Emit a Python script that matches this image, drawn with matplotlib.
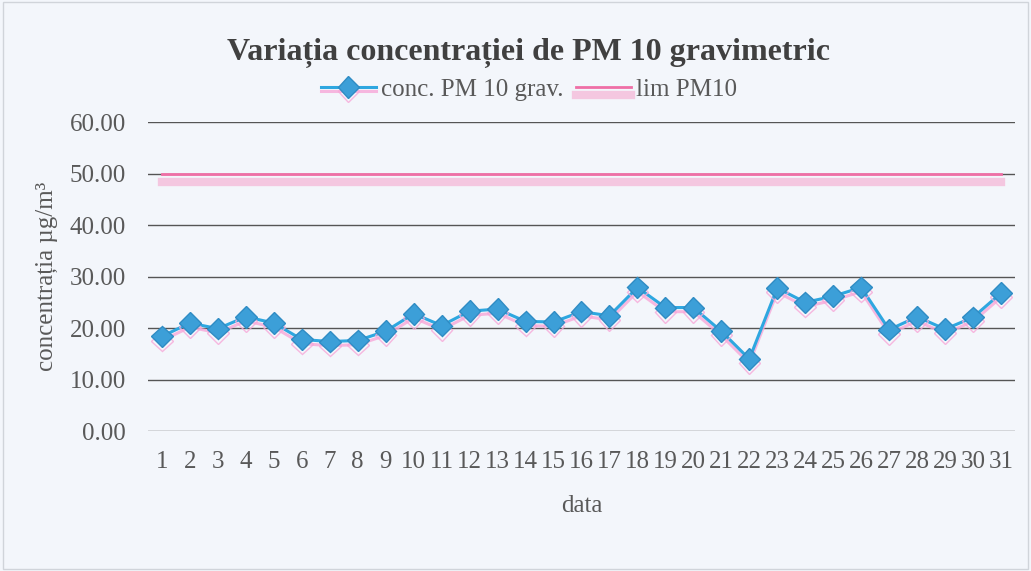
import matplotlib
matplotlib.use('Agg')
from matplotlib import pyplot as plt
import matplotlib.patheffects as pe

days = list(range(1, 32))
conc = [18.4, 21.0, 19.9, 22.2, 21.0, 17.8, 17.4, 17.6, 19.4, 22.8, 20.5, 23.3, 23.7, 21.3, 21.2, 23.2,
        22.4, 27.9, 24.0, 24.0, 19.4, 14.0, 27.8, 25.0, 26.2, 27.9, 19.7, 22.2, 19.8, 22.1, 26.8]
lim = [50] * 31
yticks = [0, 10, 20, 30, 40, 50, 60]

plt.rcParams['font.family'] = ['Liberation Serif', 'DejaVu Serif']
bg = '#f3f6fb'

fig = plt.figure(figsize=(10.31, 5.71), dpi=100, facecolor=bg)
ax = fig.add_axes([0.1435, 0.245, 0.841, 0.541], facecolor=bg)

for y in yticks:
    ax.axhline(y, color='#555555', lw=1.0, zorder=1)

shadow_pink = [pe.SimpleLineShadow(offset=(0, -3), shadow_color='#f7a8d8', alpha=0.8), pe.Normal()]
ax.plot(days, conc, color='#2ea7e0', lw=2.2, marker='D', markersize=11,
        markerfacecolor='#3c9fd8', markeredgecolor='#2f8cc4', zorder=3,
        label='conc. PM 10 grav.', path_effects=shadow_pink)
ax.plot(days, lim, color='#ef6fa6', lw=2.0, zorder=2, label='lim PM10',
        path_effects=[pe.SimpleLineShadow(offset=(0, -6), shadow_color='#f6a9cf', alpha=0.6, linewidth=6),
                      pe.Normal()])

ax.set_xlim(0.5, 31.5)
ax.set_ylim(0, 60)
ax.set_xticks(days)
ax.set_xticklabels([str(d) for d in days])
ax.set_yticks(yticks)
ax.set_yticklabels(['%.2f' % v for v in yticks])
ax.tick_params(axis='both', length=0, labelsize=18, colors='#595959', pad=16)
ax.tick_params(axis='x', pad=14)
for s in ax.spines.values():
    s.set_visible(False)
ax.set_xlabel('data', fontsize=18, color='#595959', labelpad=16)
ax.set_ylabel('concentrația µg/m³', fontsize=18, color='#595959')
ax.yaxis.set_label_coords(-0.104, 0.5)

fig.text(0.513, 1 - 60 / 571, 'Variația concentrației de PM 10 gravimetric', ha='center', va='baseline',
         fontsize=23, fontweight='bold', color='#404040')
fig.legend(loc='center', bbox_to_anchor=(0.513, 0.843), ncol=2, frameon=False, fontsize=18,
           handlelength=2.2, columnspacing=0.5, handletextpad=0.2, labelcolor='#595959')

fig.patches.append(plt.Rectangle((0.003, 0.004), 0.994, 0.992, transform=fig.transFigure,
                                 fill=False, edgecolor='#d0d4da', lw=1))
plt.savefig('out.png', dpi=100, facecolor=bg)
